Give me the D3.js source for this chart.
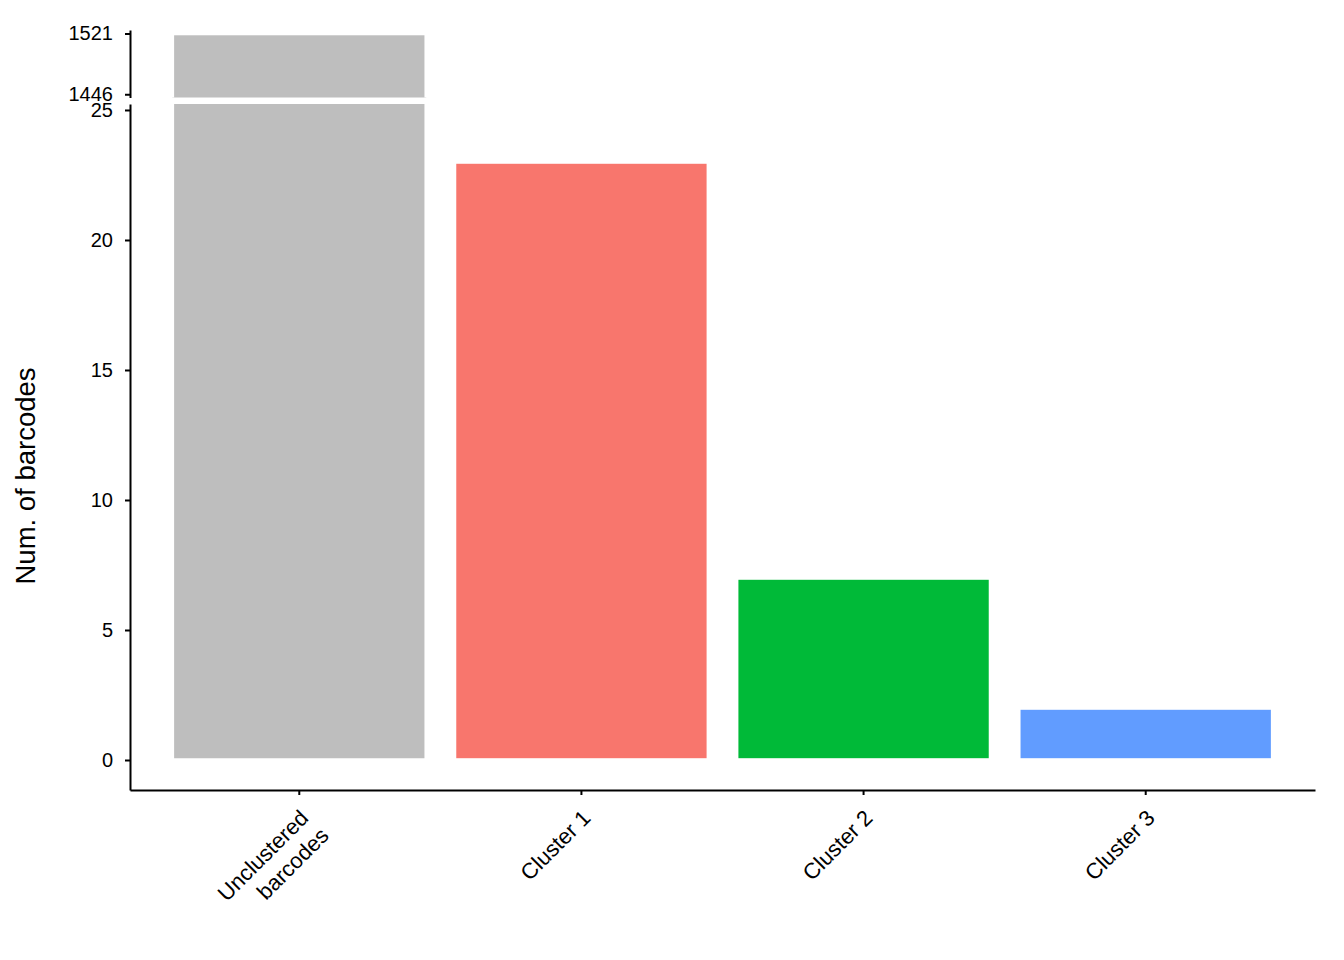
<!DOCTYPE html>
<html>
<head>
<meta charset="UTF-8">
<title>Num. of barcodes</title>
<script src="https://d3js.org/d3.v7.min.js"></script>
<style>
    body { margin: 0; background: #fff; }
    text { font-family: "Liberation Sans", Arial, Helvetica, sans-serif; fill: #000; }
</style>
</head>
<body>
<div id="chart"></div>
<script>
// data
const categories = ["Unclustered\nbarcodes", "Cluster 1", "Cluster 2", "Cluster 3"];
const counts = [1521, 23, 7, 2];
const colors = ["#BEBEBE", "#F8766D", "#00BA38", "#619CFF"];
const lowerTicks = [0, 5, 10, 15, 20, 25];
const upperTicks = [1446, 1521];

const width = 1344, height = 960;
const left = 130, right = 1315;
const bottom = 790;
const lowerTop = 104, upperTop = 30, upperBottom = 97.5;

const svg = d3.select("#chart").append("svg")
    .attr("width", width)
    .attr("height", height);

const x = d3.scaleBand()
    .domain(categories)
    .range([left, right])
    .paddingInner(0.1)
    .paddingOuter(0.15);

// lower and upper panels of the broken axis
const yLow = d3.scaleLinear().domain([-1.154, 25.23]).range([bottom, lowerTop]);
const yUp = d3.scaleLinear().domain([1442, 1525.3]).range([upperBottom, upperTop]);

const defs = svg.append("defs");
defs.append("clipPath").attr("id", "clipLow")
    .append("rect").attr("x", left).attr("y", lowerTop).attr("width", right - left).attr("height", bottom - lowerTop);
defs.append("clipPath").attr("id", "clipUp")
    .append("rect").attr("x", left).attr("y", upperTop).attr("width", right - left).attr("height", upperBottom - upperTop);

const data = categories.map((c, i) => ({cat: c, value: counts[i], color: colors[i]}));

// bars, drawn in each panel and clipped
[[yLow, "clipLow"], [yUp, "clipUp"]].forEach(([y, clip]) => {
    svg.append("g").attr("clip-path", "url(#" + clip + ")")
        .selectAll("rect")
        .data(data)
        .join("rect")
        .attr("x", d => x(d.cat))
        .attr("width", x.bandwidth())
        .attr("y", d => y(d.value))
        .attr("height", d => y(0) - y(d.value))
        .attr("fill", d => d.color)
        .attr("stroke", "#fff")
        .attr("stroke-width", 3.6);
});

// y axes
function styleAxis(g) {
    g.selectAll("path.domain").attr("stroke", "#000").attr("stroke-width", 2);
    g.selectAll(".tick line").attr("stroke", "#000").attr("stroke-width", 2);
    g.selectAll(".tick text").style("font-size", "20px").attr("fill", "#000");
}

svg.append("g")
    .attr("transform", "translate(" + left + ",0)")
    .call(d3.axisLeft(yLow).tickValues(lowerTicks).tickSize(5).tickPadding(12).tickSizeOuter(0).tickFormat(d3.format("d")))
    .call(styleAxis);

svg.append("g")
    .attr("transform", "translate(" + left + ",0)")
    .call(d3.axisLeft(yUp).tickValues(upperTicks).tickSize(5).tickPadding(12).tickSizeOuter(0).tickFormat(d3.format("d")))
    .call(styleAxis);

// x axis
const xAxis = svg.append("g")
    .attr("transform", "translate(0," + bottom + ")")
    .call(d3.axisBottom(x).tickSize(5).tickSizeOuter(0).tickFormat(""))
    .call(styleAxis);

xAxis.selectAll(".tick").each(function(d) {
    const lines = d.split("\n");
    const t = d3.select(this).append("text")
        .attr("transform", "translate(5,24) rotate(-45)")
        .attr("text-anchor", "end")
        .style("font-size", "22px");
    lines.forEach((ln, i) => {
        t.append("tspan")
            .attr("x", i * 2)
            .attr("y", 0)
            .attr("dy", (i * 1.22 + 0.35) + "em")
            .text(ln);
    });
});

// y title
svg.append("text")
    .attr("transform", "translate(35,476) rotate(-90)")
    .attr("text-anchor", "middle")
    .style("font-size", "27.5px")
    .text("Num. of barcodes");
</script>
</body>
</html>
